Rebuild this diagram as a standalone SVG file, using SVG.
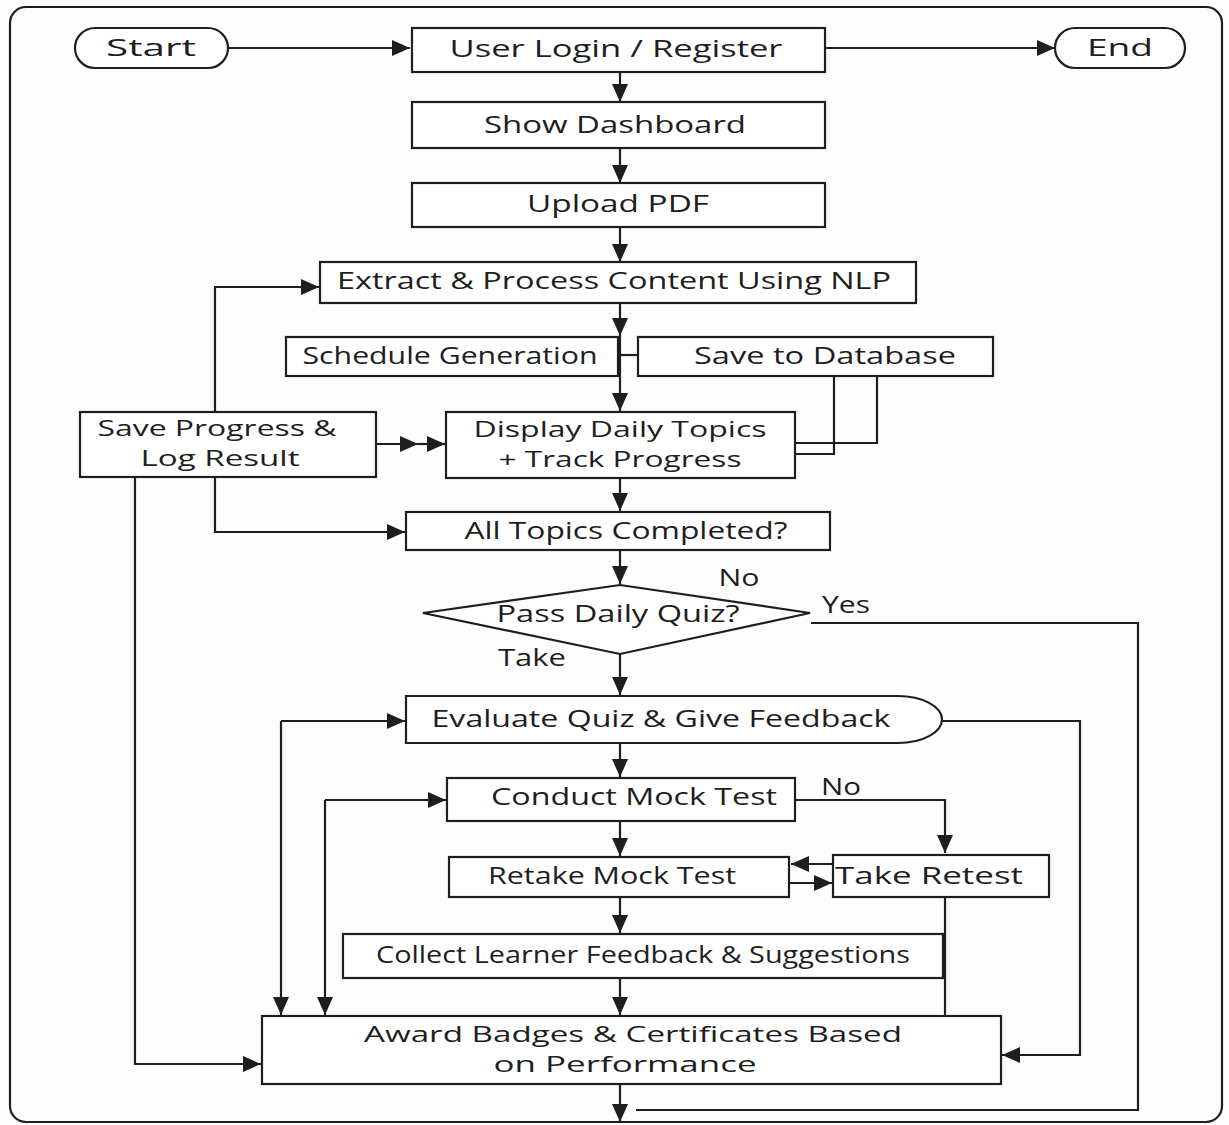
<svg xmlns="http://www.w3.org/2000/svg" width="1229" height="1125" viewBox="0 0 1229 1125">
<defs>
<marker id="ah" markerUnits="userSpaceOnUse" markerWidth="18" markerHeight="16" viewBox="0 0 18 16" refX="18" refY="8" orient="auto">
<path d="M0,0 L18,8 L0,16 z" fill="#1e1e1e"/>
</marker>
<style>
.n{fill:#ffffff;stroke:#1e1e1e;stroke-width:2.2}
.c{fill:none;stroke:#1e1e1e;stroke-width:2.2}
.a{marker-end:url(#ah)}
text{font-family:"Open Sans","Noto Sans","DejaVu Sans",sans-serif;font-size:24px;fill:#1e1e1e;text-anchor:middle}
.t{font-size:22px}
</style>
</defs>
<rect x="0" y="0" width="1229" height="1125" fill="#fdfdfd"/>
<rect x="10" y="7" width="1212" height="1115" rx="16" fill="none" stroke="#1e1e1e" stroke-width="2.2"/>
<g id="connectors">
<path class="c a" d="M228,48 H410"/>
<path class="c a" d="M825,48 H1055"/>
<path class="c a" d="M620,72 V102"/>
<path class="c a" d="M620,148 V183"/>
<path class="c a" d="M620,227 V262"/>
<path class="c a" d="M620,303 V336"/>
<path class="c a" d="M620,336 V411"/>
<path class="c" d="M620,355 H638"/>
<path class="c" d="M877,376 V443 H795"/>
<path class="c" d="M834,376 V454 H795"/>
<path class="c a" d="M376,444 H418"/>
<path class="c a" d="M418,444 H445"/>
<path class="c a" d="M215,412 V287 H319"/>
<path class="c a" d="M215,477 V532 H405"/>
<path class="c a" d="M135,477 V1064 H261"/>
<path class="c a" d="M620,478 V511"/>
<path class="c a" d="M620,550 V584"/>
<path class="c a" d="M620,654 V695"/>
<path class="c" d="M811,623 H1138 V1110 H636"/>
<path class="c a" d="M942,721 H1080 V1055 H1002"/>
<path class="c a" d="M281,721 H405"/>
<path class="c a" d="M281,721 V1015"/>
<path class="c a" d="M325,800 H446"/>
<path class="c a" d="M325,800 V1015"/>
<path class="c a" d="M620,743 V777"/>
<path class="c a" d="M795,800 H945 V853"/>
<path class="c a" d="M620,821 V856"/>
<path class="c a" d="M833,864 H791"/>
<path class="c a" d="M789,883 H832"/>
<path class="c" d="M945,897 V1016"/>
<path class="c a" d="M620,897 V933"/>
<path class="c a" d="M620,978 V1015"/>
<path class="c a" d="M620,1084 V1122"/>
</g>
<g id="start"><rect class="n" x="75" y="28" width="153" height="40" rx="20"/><text x="151" y="56" textLength="90" lengthAdjust="spacingAndGlyphs">Start</text></g>
<g id="login"><rect class="n" x="412" y="28" width="413" height="44"/><text x="616" y="57" textLength="333" lengthAdjust="spacingAndGlyphs">User Login / Register</text></g>
<g id="end"><rect class="n" x="1055" y="28" width="130" height="40" rx="20"/><text x="1120" y="56" textLength="66" lengthAdjust="spacingAndGlyphs">End</text></g>
<g id="dashboard"><rect class="n" x="412" y="102" width="413" height="46"/><text x="615" y="133" textLength="262" lengthAdjust="spacingAndGlyphs">Show Dashboard</text></g>
<g id="upload"><rect class="n" x="412" y="183" width="413" height="44"/><text x="618" y="212" textLength="182" lengthAdjust="spacingAndGlyphs">Upload PDF</text></g>
<g id="extract"><rect class="n" x="320" y="262" width="596" height="41"/><text x="614" y="289" textLength="554" lengthAdjust="spacingAndGlyphs">Extract &amp; Process Content Using NLP</text></g>
<g id="schedule"><rect class="n" x="286" y="337" width="332" height="39"/><text x="450" y="364" textLength="295" lengthAdjust="spacingAndGlyphs">Schedule Generation</text></g>
<g id="savedb"><rect class="n" x="638" y="337" width="355" height="39"/><text x="825" y="364" textLength="262" lengthAdjust="spacingAndGlyphs">Save to Database</text></g>
<g id="saveprogress"><rect class="n" x="80" y="412" width="296" height="65"/><text class="t" x="217" y="436" textLength="239" lengthAdjust="spacingAndGlyphs">Save Progress &amp;</text><text class="t" x="220" y="466" textLength="159" lengthAdjust="spacingAndGlyphs">Log Result</text></g>
<g id="display"><rect class="n" x="446" y="412" width="349" height="66"/><text class="t" x="620" y="437" textLength="293" lengthAdjust="spacingAndGlyphs">Display Daily Topics</text><text class="t" x="620" y="467" textLength="243" lengthAdjust="spacingAndGlyphs">+ Track Progress</text></g>
<g id="alltopics"><rect class="n" x="406" y="512" width="424" height="38"/><text x="626" y="539" textLength="323" lengthAdjust="spacingAndGlyphs">All Topics Completed?</text></g>
<g id="quiz"><polygon class="n" points="620,585 810,613 620,654 423,613"/><text x="618" y="622" textLength="243" lengthAdjust="spacingAndGlyphs">Pass Daily Quiz?</text></g>
<g id="labels">
<text x="739" y="586" textLength="41" lengthAdjust="spacingAndGlyphs">No</text>
<text x="846" y="613" textLength="48" lengthAdjust="spacingAndGlyphs">Yes</text>
<text x="532" y="666" textLength="68" lengthAdjust="spacingAndGlyphs">Take</text>
<text x="841" y="795" textLength="40" lengthAdjust="spacingAndGlyphs">No</text>
</g>
<g id="evaluate"><path class="n" d="M406,696 H898 A44,23.5 0 0 1 898,743 H406 Z"/><text x="661" y="727" textLength="459" lengthAdjust="spacingAndGlyphs">Evaluate Quiz &amp; Give Feedback</text></g>
<g id="conduct"><rect class="n" x="447" y="778" width="348" height="43"/><text x="634" y="805" textLength="286" lengthAdjust="spacingAndGlyphs">Conduct Mock Test</text></g>
<g id="retake"><rect class="n" x="449" y="857" width="340" height="40"/><text x="612" y="884" textLength="248" lengthAdjust="spacingAndGlyphs">Retake Mock Test</text></g>
<g id="retest"><rect class="n" x="833" y="855" width="216" height="42"/><text x="929" y="884" textLength="188" lengthAdjust="spacingAndGlyphs">Take Retest</text></g>
<g id="collect"><rect class="n" x="343" y="934" width="600" height="44"/><text x="643" y="963" textLength="534" lengthAdjust="spacingAndGlyphs">Collect Learner Feedback &amp; Suggestions</text></g>
<g id="award"><rect class="n" x="262" y="1016" width="739" height="68"/><text class="t" x="633" y="1042" textLength="538" lengthAdjust="spacingAndGlyphs">Award Badges &amp; Certificates Based</text><text class="t" x="625" y="1072" textLength="263" lengthAdjust="spacingAndGlyphs">on Performance</text></g>
</svg>
